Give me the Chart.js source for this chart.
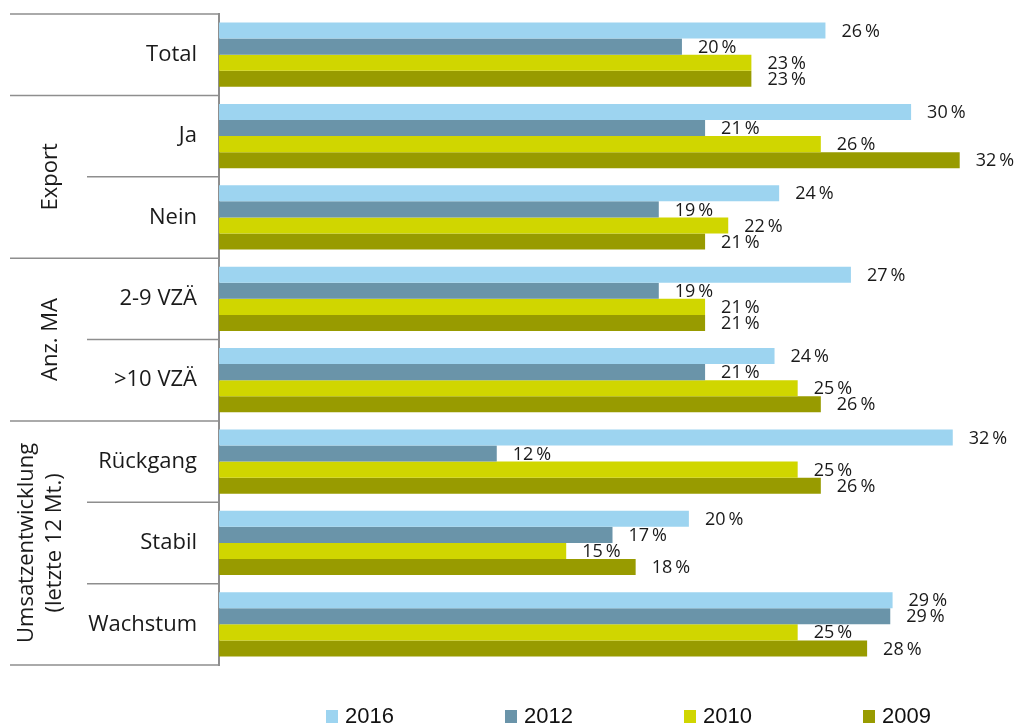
<!DOCTYPE html>
<html>
<head>
<meta charset="utf-8">
<script src="https://cdn.jsdelivr.net/npm/chart.js@4.4.0/dist/chart.umd.min.js"></script>
<style>
  html, body { margin: 0; padding: 0; background: #fff; }
  #wrap { width: 1019px; height: 726px; }
</style>
</head>
<body>
<div id="wrap"><canvas id="chart" width="1019" height="726"></canvas></div>
<script>
const categories = ['Total', 'Ja', 'Nein', '2-9 VZÄ', '>10 VZÄ', 'Rückgang', 'Stabil', 'Wachstum'];
const years = ['2016', '2012', '2010', '2009'];
const values2016 = [26.2, 29.9, 24.2, 27.3, 24.0, 31.7, 20.3, 29.1];
const values2012 = [20.0, 21.0, 19.0, 19.0, 21.0, 12.0, 17.0, 29.0];
const values2010 = [23.0, 26.0, 22.0, 21.0, 25.0, 25.0, 15.0, 25.0];
const values2009 = [23.0, 32.0, 21.0, 21.0, 26.0, 26.0, 18.0, 28.0];
const colors = ['#9dd4f0', '#6a94a9', '#d0d600', '#989b00'];

// groups on the left side: [label lines, first index, last index]
const groups = [
  [['Export'], 1, 2],
  [['Anz. MA'], 3, 4],
  [['Umsatzentwicklung', '(letzte 12 Mt.)'], 5, 7]
];
// boundaries that close a group (long line) - others get a short line
const groupBreaks = [0, 1, 3, 5, 8];

const labelFont = '"Open Sans", "DejaVu Sans", sans-serif';
const lineColor = '#8e8e8e';

const leftFrame = {
  id: 'leftFrame',
  afterDraw(chart) {
    const ctx = chart.ctx;
    const y = chart.scales.y;
    const area = chart.chartArea;
    const half = (y.getPixelForValue(1) - y.getPixelForValue(0)) / 2;
    ctx.save();
    ctx.strokeStyle = lineColor;
    ctx.lineWidth = 1.5;
    for (let i = 0; i <= categories.length; i++) {
      const py = i < categories.length ? y.getPixelForValue(i) - half : y.getPixelForValue(i - 1) + half;
      const x0 = groupBreaks.includes(i) ? 10 : 87;
      ctx.beginPath();
      ctx.moveTo(x0, py);
      ctx.lineTo(area.left, py);
      ctx.stroke();
    }
    ctx.fillStyle = '#1a1a1a';
    ctx.font = '22px ' + labelFont;
    ctx.textAlign = 'center';
    ctx.textBaseline = 'middle';
    groups.forEach(([lines, a, b]) => {
      const cy = (y.getPixelForValue(a) + y.getPixelForValue(b)) / 2;
      const xs = lines.length === 1 ? [51] : [27, 55];
      lines.forEach((t, k) => {
        ctx.save();
        ctx.translate(xs[k], cy);
        ctx.rotate(-Math.PI / 2);
        ctx.fillText(t, 0, 0);
        ctx.restore();
      });
    });
    ctx.restore();
  }
};

const barLabels = {
  id: 'barLabels',
  afterDatasetsDraw(chart) {
    const ctx = chart.ctx;
    ctx.save();
    ctx.fillStyle = '#1a1a1a';
    ctx.font = '18px ' + labelFont;
    ctx.textAlign = 'left';
    ctx.textBaseline = 'middle';
    chart.data.datasets.forEach((ds, di) => {
      chart.getDatasetMeta(di).data.forEach((bar, i) => {
        ctx.fillText(Math.round(ds.data[i]) + '\u2009%', bar.x + 16, bar.y + 1);
      });
    });
    ctx.restore();
  }
};

const bottomLegend = {
  id: 'bottomLegend',
  afterDraw(chart) {
    const ctx = chart.ctx;
    ctx.save();
    ctx.font = '22px "Liberation Sans", Arial, sans-serif';
    ctx.textBaseline = 'middle';
    ctx.textAlign = 'left';
    chart.data.datasets.forEach((ds, i) => {
      const x = 326 + i * 179;
      ctx.fillStyle = ds.backgroundColor;
      ctx.fillRect(x, 710, 12, 13);
      ctx.fillStyle = '#111';
      ctx.fillText(ds.label, x + 19, 717);
    });
    ctx.restore();
  }
};

new Chart(document.getElementById('chart'), {
  type: 'bar',
  data: {
    labels: categories,
    datasets: [
      { label: years[0], data: values2016, backgroundColor: colors[0] },
      { label: years[1], data: values2012, backgroundColor: colors[1] },
      { label: years[2], data: values2010, backgroundColor: colors[2] },
      { label: years[3], data: values2009, backgroundColor: colors[3] }
    ]
  },
  options: {
    indexAxis: 'y',
    responsive: false,
    animation: false,
    maintainAspectRatio: false,
    devicePixelRatio: 1,
    categoryPercentage: 0.79,
    barPercentage: 1,
    layout: { padding: { top: 14, right: 13, bottom: 61, left: 0 } },
    plugins: {
      legend: { display: false },
      tooltip: { enabled: false }
    },
    scales: {
      x: {
        display: false,
        min: 0,
        max: 34
      },
      y: {
        afterFit(scale) {
          scale.width = 219;
          scale.paddingTop = 0;
          scale.paddingBottom = 0;
        },
        grid: { display: false, drawTicks: false, tickLength: 0 },
        border: { display: true, color: lineColor, width: 2 },
        ticks: {
          padding: 22,
          color: '#1a1a1a',
          font: { family: labelFont, size: 22 }
        }
      }
    }
  },
  plugins: [leftFrame, barLabels, bottomLegend]
});
</script>
</body>
</html>
